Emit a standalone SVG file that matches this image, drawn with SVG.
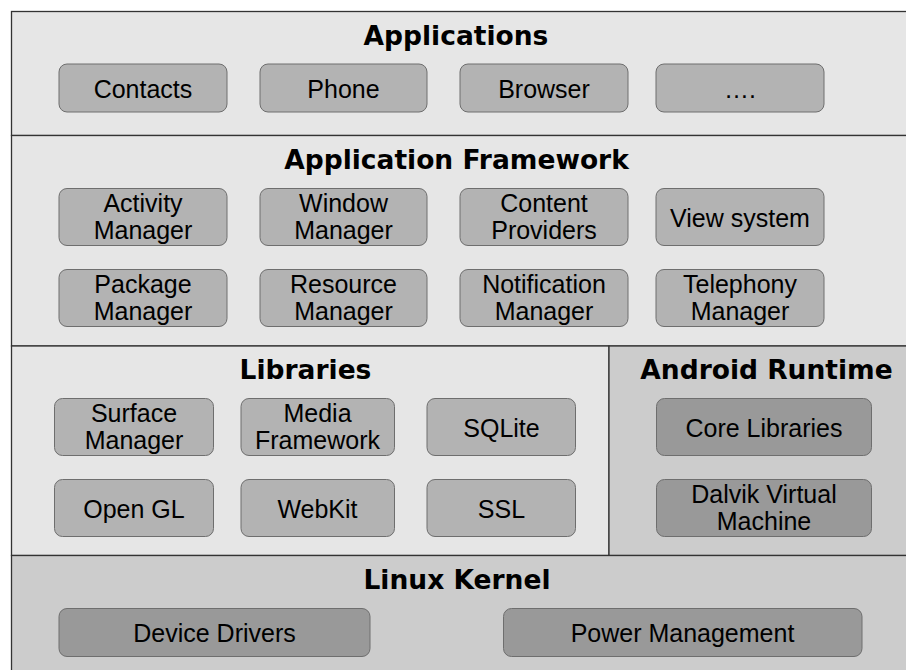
<svg xmlns="http://www.w3.org/2000/svg" width="906" height="670" viewBox="0 0 906 670">
<style>
.sec{stroke:#333333;stroke-width:1.3}
.light{fill:#e6e6e6}
.dark{fill:#cccccc}
.b1{fill:#b3b3b3;stroke:#6e6e6e;stroke-width:1}
.b2{fill:#999999;stroke:#6e6e6e;stroke-width:1}
.title{font-family:"DejaVu Sans",sans-serif;font-weight:bold;font-size:26.5px;fill:#000;text-anchor:middle}
.lbl{font-family:"Liberation Sans",Arial,sans-serif;font-size:25px;fill:#000;text-anchor:middle}
</style>
<rect width="906" height="670" fill="#ffffff"/>
<g id="layers">
<rect class="sec light" x="11.5" y="11.5" width="920" height="124"/>
<rect class="sec light" x="11.5" y="135.5" width="920" height="210.5"/>
<rect class="sec light" x="11.5" y="346" width="597.5" height="209.5"/>
<rect class="sec dark" x="609" y="346" width="320" height="209.5"/>
<rect class="sec dark" x="11.5" y="555.5" width="920" height="130"/>
</g>
<g id="titles">
<text class="title" x="456" y="45">Applications</text>
<text class="title" x="456.5" y="169">Application Framework</text>
<text class="title" x="305.5" y="379">Libraries</text>
<text class="title" x="766.5" y="379">Android Runtime</text>
<text class="title" x="457" y="588.5">Linux Kernel</text>
</g>
<g id="contacts"><rect class="b1" x="59" y="64" width="168" height="48" rx="8"/><text class="lbl" x="143" y="97.5">Contacts</text></g>
<g id="phone"><rect class="b1" x="260" y="64" width="167" height="48" rx="8"/><text class="lbl" x="343.5" y="97.5">Phone</text></g>
<g id="browser"><rect class="b1" x="460" y="64" width="168" height="48" rx="8"/><text class="lbl" x="544" y="97.5">Browser</text></g>
<g id="more"><rect class="b1" x="656" y="64" width="168" height="48" rx="8"/><text class="lbl" x="740" y="97.5">….</text></g>
<g id="activity-manager"><rect class="b1" x="59" y="188.5" width="168" height="57" rx="8"/><text class="lbl" x="143" y="212">Activity</text><text class="lbl" x="143" y="239">Manager</text></g>
<g id="window-manager"><rect class="b1" x="260" y="188.5" width="167" height="57" rx="8"/><text class="lbl" x="343.5" y="212">Window</text><text class="lbl" x="343.5" y="239">Manager</text></g>
<g id="content-providers"><rect class="b1" x="460" y="188.5" width="168" height="57" rx="8"/><text class="lbl" x="544" y="212">Content</text><text class="lbl" x="544" y="239">Providers</text></g>
<g id="view-system"><rect class="b1" x="656" y="188.5" width="168" height="57" rx="8"/><text class="lbl" x="740" y="226.5">View system</text></g>
<g id="package-manager"><rect class="b1" x="59" y="269.5" width="168" height="57" rx="8"/><text class="lbl" x="143" y="293">Package</text><text class="lbl" x="143" y="320">Manager</text></g>
<g id="resource-manager"><rect class="b1" x="260" y="269.5" width="167" height="57" rx="8"/><text class="lbl" x="343.5" y="293">Resource</text><text class="lbl" x="343.5" y="320">Manager</text></g>
<g id="notification-manager"><rect class="b1" x="460" y="269.5" width="168" height="57" rx="8"/><text class="lbl" x="544" y="293">Notification</text><text class="lbl" x="544" y="320">Manager</text></g>
<g id="telephony-manager"><rect class="b1" x="656" y="269.5" width="168" height="57" rx="8"/><text class="lbl" x="740" y="293">Telephony</text><text class="lbl" x="740" y="320">Manager</text></g>
<g id="surface-manager"><rect class="b1" x="54.5" y="398.5" width="159" height="57" rx="8"/><text class="lbl" x="134" y="422">Surface</text><text class="lbl" x="134" y="449">Manager</text></g>
<g id="media-framework"><rect class="b1" x="241" y="398.5" width="153.5" height="57" rx="8"/><text class="lbl" x="317.5" y="422">Media</text><text class="lbl" x="317.5" y="449">Framework</text></g>
<g id="sqlite"><rect class="b1" x="427" y="398.5" width="148.5" height="57" rx="8"/><text class="lbl" x="501.5" y="436.5">SQLite</text></g>
<g id="opengl"><rect class="b1" x="54.5" y="479.5" width="159" height="57" rx="8"/><text class="lbl" x="134" y="517.5">Open GL</text></g>
<g id="webkit"><rect class="b1" x="241" y="479.5" width="153.5" height="57" rx="8"/><text class="lbl" x="317.5" y="517.5">WebKit</text></g>
<g id="ssl"><rect class="b1" x="427" y="479.5" width="148.5" height="57" rx="8"/><text class="lbl" x="501.5" y="517.5">SSL</text></g>
<g id="core-libraries"><rect class="b2" x="656.5" y="398.5" width="215" height="57" rx="8"/><text class="lbl" x="764" y="436.5">Core Libraries</text></g>
<g id="dalvik"><rect class="b2" x="656.5" y="479.5" width="215" height="57" rx="8"/><text class="lbl" x="764" y="503">Dalvik Virtual</text><text class="lbl" x="764" y="530">Machine</text></g>
<g id="device-drivers"><rect class="b2" x="59" y="608.5" width="311" height="48" rx="8"/><text class="lbl" x="214.5" y="642">Device Drivers</text></g>
<g id="power-management"><rect class="b2" x="503.5" y="608.5" width="358.5" height="48" rx="8"/><text class="lbl" x="682.5" y="642">Power Management</text></g>
<g id="connectors"></g>
</svg>
